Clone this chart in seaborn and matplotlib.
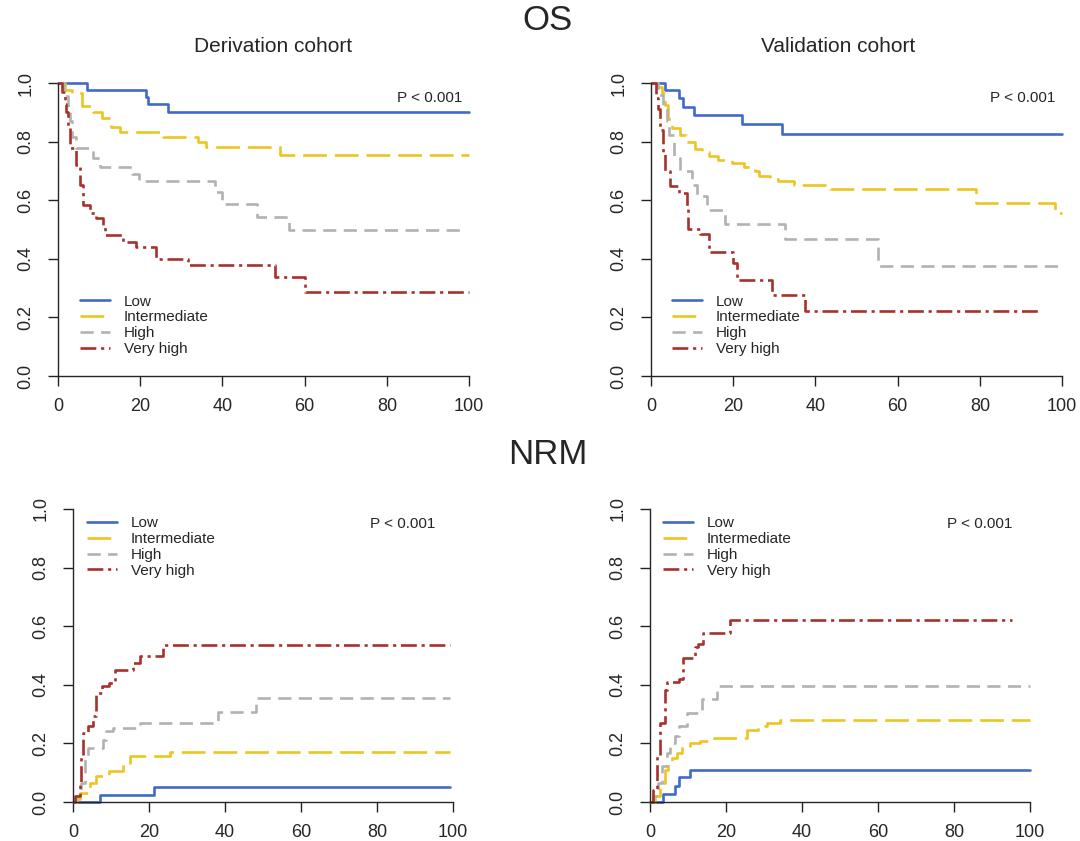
import numpy as np
import pandas as pd
import matplotlib
matplotlib.use("Agg")
import matplotlib.pyplot as plt
from matplotlib import font_manager
import seaborn as sns

# ---------------- data ----------------
groups = ["Low", "Intermediate", "High", "Very high"]

# OS - Derivation cohort
os_der_low_t = [0, 7.1, 21.3, 21.8, 26.8, 100]
os_der_low_s = [1.0, 0.976, 0.953, 0.928, 0.901, 0.901]
os_der_int_t = [0, 1.7, 3.3, 5.8, 8.6, 10.6, 13.0, 15.2, 25.5, 34.1, 36.0, 54.0, 100]
os_der_int_s = [1.0, 0.976, 0.965, 0.92, 0.90, 0.88, 0.849, 0.833, 0.816, 0.798, 0.780, 0.753, 0.753]
os_der_high_t = [0, 1.5, 2.5, 2.9, 3.3, 4.5, 8.5, 10.1, 17.9, 19.7, 38.1, 40.0, 48.3, 56.2, 99]
os_der_high_s = [1.0, 0.955, 0.91, 0.87, 0.815, 0.777, 0.745, 0.712, 0.69, 0.666, 0.628, 0.587, 0.544, 0.499, 0.499]
os_der_vh_t = [0, 1.0, 1.6, 2.0, 2.4, 2.8, 4.5, 5.3, 6.1, 7.7, 9.3, 10.9, 11.5, 15.8, 19.0, 23.9, 31.7, 52.8, 60.2, 100]
os_der_vh_s = [1.0, 0.97, 0.93, 0.90, 0.85, 0.778, 0.72, 0.653, 0.584, 0.556, 0.539, 0.516, 0.482, 0.459, 0.442, 0.399, 0.379, 0.339, 0.288, 0.288]

# OS - Validation cohort
os_val_low_t = [0, 3.5, 6.9, 7.7, 10.4, 22.2, 31.9, 100]
os_val_low_s = [1.0, 0.975, 0.95, 0.918, 0.89, 0.86, 0.827, 0.827]
os_val_int_t = [0, 1.5, 2.6, 3.4, 4.2, 5.0, 7.0, 8.5, 10.7, 12.3, 14.0, 16.4, 19.6, 22.5, 25.3, 26.3, 29.0, 31.0, 34.7, 43.6, 79.0, 98.4, 100]
os_val_int_s = [1.0, 0.985, 0.965, 0.925, 0.876, 0.845, 0.822, 0.798, 0.775, 0.763, 0.752, 0.738, 0.727, 0.713, 0.698, 0.683, 0.674, 0.664, 0.652, 0.638, 0.59, 0.556, 0.556]
os_val_high_t = [0, 1.8, 3.0, 3.8, 4.4, 5.5, 7.0, 9.9, 11.1, 13.6, 18.0, 32.6, 55.2, 100]
os_val_high_s = [1.0, 0.96, 0.91, 0.87, 0.823, 0.744, 0.698, 0.653, 0.613, 0.567, 0.519, 0.467, 0.374, 0.374]
os_val_vh_t = [0, 1.2, 1.8, 2.3, 2.8, 3.4, 4.6, 6.7, 8.7, 9.0, 11.9, 14.0, 20.0, 20.9, 29.4, 37.5, 95.1]
os_val_vh_s = [1.0, 0.95, 0.91, 0.84, 0.76, 0.70, 0.65, 0.624, 0.579, 0.501, 0.484, 0.424, 0.385, 0.328, 0.277, 0.222, 0.222]

# NRM - Derivation cohort
nrm_der_low_t = [0, 7.0, 21.2, 99.1]
nrm_der_low_s = [0, 0.025, 0.05, 0.05]
nrm_der_int_t = [0, 1.0, 1.8, 4.4, 6.0, 9.6, 13.2, 14.9, 25.4, 99.1]
nrm_der_int_s = [0, 0.01, 0.03, 0.065, 0.09, 0.105, 0.133, 0.156, 0.17, 0.17]
nrm_der_high_t = [0, 0.9, 2.2, 3.1, 3.9, 7.9, 8.8, 10.5, 17.5, 38.2, 48.2, 99.1]
nrm_der_high_s = [0, 0.02, 0.065, 0.156, 0.184, 0.213, 0.241, 0.253, 0.27, 0.306, 0.355, 0.355]
nrm_der_vh_t = [0, 0.4, 1.8, 2.2, 2.6, 3.9, 5.3, 6.1, 7.5, 9.6, 11.0, 15.8, 17.5, 23.7, 99.1]
nrm_der_vh_s = [0, 0.02, 0.065, 0.156, 0.236, 0.258, 0.292, 0.372, 0.395, 0.406, 0.452, 0.474, 0.497, 0.537, 0.537]

# NRM - Validation cohort
nrm_val_low_t = [0, 3.5, 6.6, 7.5, 10.4, 100]
nrm_val_low_s = [0, 0.028, 0.053, 0.085, 0.11, 0.11]
nrm_val_int_t = [0, 1.3, 2.6, 3.9, 4.8, 5.7, 7.2, 8.3, 10.5, 13.2, 16.7, 25.4, 28.5, 30.7, 34.2, 100]
nrm_val_int_s = [0, 0.02, 0.065, 0.11, 0.133, 0.15, 0.167, 0.19, 0.2, 0.207, 0.218, 0.247, 0.258, 0.27, 0.281, 0.281]
nrm_val_high_t = [0, 0.9, 2.2, 3.1, 4.4, 5.3, 6.6, 7.5, 9.6, 13.6, 17.5, 100]
nrm_val_high_s = [0, 0.02, 0.065, 0.122, 0.167, 0.2, 0.224, 0.258, 0.304, 0.35, 0.395, 0.395]
nrm_val_vh_t = [0, 0.9, 1.8, 2.6, 3.9, 4.4, 7.5, 8.8, 11.8, 12.7, 14.0, 21.0, 95.2]
nrm_val_vh_s = [0, 0.04, 0.156, 0.27, 0.383, 0.41, 0.42, 0.49, 0.53, 0.54, 0.577, 0.622, 0.622]

x_ticks = [0, 20, 40, 60, 80, 100]
y_ticks = [0.0, 0.2, 0.4, 0.6, 0.8, 1.0]
p_text = "P < 0.001"

# ---------------- style ----------------
sns.set_style("ticks")
avail = {f.name for f in font_manager.fontManager.ttflist}
fam = [f for f in ["Liberation Sans", "DejaVu Sans"] if f in avail]
plt.rcParams["font.family"] = fam
plt.rcParams["axes.linewidth"] = 1.0

palette = {"Low": "#4169CC", "Intermediate": "#EBC520", "High": "#B2B2B2", "Very high": "#A8312C"}
dashes = {"Low": "", "Intermediate": (9, 3), "High": (5, 2.8), "Very high": (6, 1.8, 1.2, 1.8)}


def make_df(series):
    rows = []
    for g, (t, s) in zip(groups, series):
        for ti, si in zip(t, s):
            rows.append({"time": ti, "value": si, "group": g})
    return pd.DataFrame(rows)


panels = [
    ([0.0537, 0.5529, 0.3806, 0.3484],
     [(os_der_low_t, os_der_low_s), (os_der_int_t, os_der_int_s),
      (os_der_high_t, os_der_high_s), (os_der_vh_t, os_der_vh_s)],
     (0.054, 0.278), (0.983, 0.949)),
    ([0.6028, 0.5529, 0.3806, 0.3484],
     [(os_val_low_t, os_val_low_s), (os_val_int_t, os_val_int_s),
      (os_val_high_t, os_val_high_s), (os_val_vh_t, os_val_vh_s)],
     (0.051, 0.278), (0.983, 0.949)),
    ([0.0676, 0.0464, 0.3519, 0.3484],
     [(nrm_der_low_t, nrm_der_low_s), (nrm_der_int_t, nrm_der_int_s),
      (nrm_der_high_t, nrm_der_high_s), (nrm_der_vh_t, nrm_der_vh_s)],
     (0.037, 0.975), (0.953, 0.949)),
    ([0.6019, 0.0464, 0.3519, 0.3484],
     [(nrm_val_low_t, nrm_val_low_s), (nrm_val_int_t, nrm_val_int_s),
      (nrm_val_high_t, nrm_val_high_s), (nrm_val_vh_t, nrm_val_vh_s)],
     (0.034, 0.975), (0.953, 0.949)),
]

fig = plt.figure(figsize=(10.8, 8.41), dpi=100)

for rect, series, leg_xy, p_xy in panels:
    ax = fig.add_axes(rect)
    df = make_df(series)
    sns.lineplot(data=df, x="time", y="value", hue="group", style="group",
                 hue_order=groups, style_order=groups, palette=palette,
                 dashes=dashes, estimator=None, drawstyle="steps-post",
                 linewidth=1.9, legend=False, ax=ax, clip_on=False)
    ax.set_xlim(0, 100)
    ax.set_ylim(0, 1)
    ax.set_xticks(x_ticks)
    ax.set_yticks(y_ticks)
    ax.set_xticklabels([str(v) for v in x_ticks])
    ax.set_yticklabels([f"{v:.1f}" for v in y_ticks], rotation=90, va="center")
    ax.tick_params(axis="both", length=7, width=1.0, labelsize=13, color="#222222")
    ax.tick_params(axis="x", pad=9)
    ax.tick_params(axis="y", pad=10)
    ax.set_xlabel("")
    ax.set_ylabel("")
    sns.despine(ax=ax)
    ax.patch.set_alpha(0)
    handles = ax.get_lines()[:4]
    ax.legend(handles, groups, loc="upper left", bbox_to_anchor=leg_xy,
              frameon=False, fontsize=11, handlelength=1.95, handletextpad=0.9,
              labelspacing=0.12, borderpad=0, borderaxespad=0)
    ax.text(p_xy[0], p_xy[1], p_text, transform=ax.transAxes, ha="right",
            va="center", fontsize=11)

fig.text(548 / 1080, 1 - 20 / 841, "OS", ha="center", va="center", fontsize=25)
fig.text(273 / 1080, 1 - 47 / 841, "Derivation cohort", ha="center", va="center", fontsize=15)
fig.text(838 / 1080, 1 - 47 / 841, "Validation cohort", ha="center", va="center", fontsize=15)
fig.text(548 / 1080, 1 - 455 / 841, "NRM", ha="center", va="center", fontsize=25)

fig.savefig("out.png", dpi=100)
